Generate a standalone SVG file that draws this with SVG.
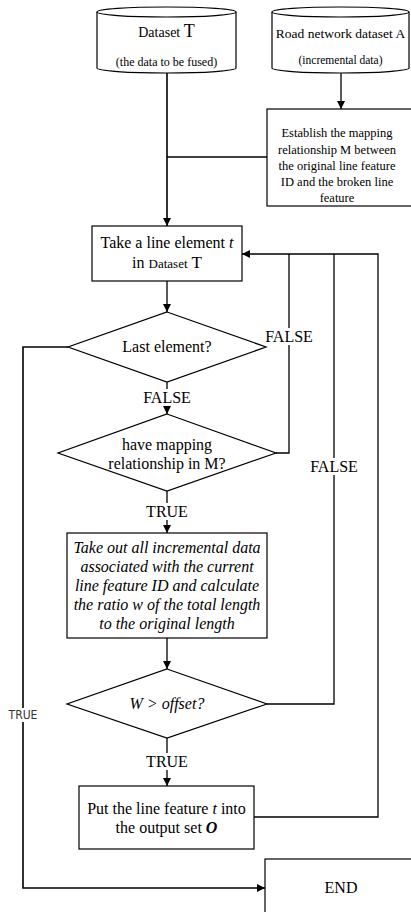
<svg xmlns="http://www.w3.org/2000/svg" width="411" height="912" viewBox="0 0 411 912">
<style>
.s{fill:#fff;stroke:#000;stroke-width:1.2}
.c{fill:none;stroke:#000;stroke-width:1.3}
.t{font-family:"Liberation Serif","Times New Roman",serif;font-size:16px;fill:#000;text-anchor:middle}
.i{font-style:italic}
.e{font-size:12.5px}
.lb{font-family:"Liberation Serif","Times New Roman",serif;font-size:16px;fill:#000;text-anchor:middle}
.bg{fill:#fff;stroke:none}
</style>
<defs>
<marker id="ah" viewBox="0 0 10 10" refX="10" refY="5" markerWidth="8" markerHeight="8" markerUnits="userSpaceOnUse" orient="auto">
<path d="M0,0 L10,5 L0,10 z" fill="#000"/>
</marker>
</defs>
<g id="connectors">
<path class="c" d="M167,73 V226" marker-end="url(#ah)" style="stroke-width:1.6"/>
<path class="c" d="M341,73 V109" marker-end="url(#ah)"/>
<path class="c" d="M267,157 H167"/>
<path class="c" d="M167,281 V312" marker-end="url(#ah)"/>
<path class="c" d="M167,382 V414" marker-end="url(#ah)"/>
<path class="c" d="M167,491 V533" marker-end="url(#ah)"/>
<path class="c" d="M167,638 V669" marker-end="url(#ah)"/>
<path class="c" d="M167,738 V786" marker-end="url(#ah)"/>
<path class="c" d="M276,453 H289 V254"/>
<path class="c" d="M267,704 H334 V254"/>
<path class="c" d="M254,817 H378 V254 H242" marker-end="url(#ah)"/>
<path class="c" d="M68,347 H23 V888 H265" marker-end="url(#ah)" style="stroke-width:1.6"/>
<rect class="bg" x="264" y="328" width="50" height="17"/>
<text class="lb" x="289" y="342">FALSE</text>
<rect class="bg" x="309" y="458" width="50" height="17"/>
<text class="lb" x="334" y="472">FALSE</text>
<rect class="bg" x="141" y="389" width="52" height="17"/>
<text class="lb" x="167" y="403">FALSE</text>
<rect class="bg" x="144" y="503" width="46" height="17"/>
<text class="lb" x="167" y="517">TRUE</text>
<rect class="bg" x="144" y="753" width="46" height="17"/>
<text class="lb" x="167" y="767">TRUE</text>
<rect class="bg" x="8" y="708" width="30" height="14"/>
<text x="23" y="719" style="font-family:'Liberation Sans Narrow','DejaVu Sans Condensed',sans-serif;font-size:12px;text-anchor:middle;fill:#333">TRUE</text>
</g>
<g id="datasetT">
<path class="s" d="M97,12 V68 A69.5,5 0 0 0 236,68 V12"/>
<ellipse class="s" cx="166.5" cy="12" rx="69.5" ry="5"/>
<text class="t" x="166.5" y="37"><tspan style="font-size:14px">Dataset </tspan><tspan style="font-size:18px">T</tspan></text>
<text class="t" style="font-size:12px" x="166.5" y="66">(the data to be fused)</text>
</g>
<g id="datasetA">
<path class="s" d="M272,12 V68 A68.5,5 0 0 0 409,68 V12"/>
<ellipse class="s" cx="340.5" cy="12" rx="68.5" ry="5"/>
<text class="t" x="340.5" y="38" style="font-size:13.5px">Road network dataset A</text>
<text class="t" style="font-size:11.5px" x="340.5" y="64">(incremental data)</text>
</g>
<g id="establish">
<rect class="s" x="267" y="109" width="145" height="97"/>
<text class="t e" x="337" y="137">Establish the mapping</text>
<text class="t e" x="337" y="154">relationship M between</text>
<text class="t e" x="337" y="170">the original line feature</text>
<text class="t e" x="337" y="186">ID and the broken line</text>
<text class="t e" x="337" y="202">feature</text>
</g>
<g id="take">
<rect class="s" x="92" y="226" width="150" height="55"/>
<text class="t" x="167" y="248">Take a line element <tspan class="i">t</tspan></text>
<text class="t" x="167" y="268">in <tspan style="font-size:13px">Dataset</tspan> <tspan style="font-size:17px">T</tspan></text>
</g>
<g id="last">
<polygon class="s" points="167,312 266,347 167,382 68,347"/>
<text class="t" x="167" y="352">Last element?</text>
</g>
<g id="mapping">
<polygon class="s" points="167,414 276,453 167,491 58,453"/>
<text class="t" x="167" y="450">have mapping</text>
<text class="t" x="167" y="469">relationship in M?</text>
</g>
<g id="calc">
<rect class="s" x="67" y="533" width="200" height="105"/>
<text class="t i" x="167" y="553">Take out all incremental data</text>
<text class="t i" x="167" y="572">associated with the current</text>
<text class="t i" x="167" y="591">line feature ID and calculate</text>
<text class="t i" x="167" y="610">the ratio w of the total length</text>
<text class="t i" x="167" y="629">to the original length</text>
</g>
<g id="offset">
<polygon class="s" points="167,669 267,704 167,738 67,704"/>
<text class="t i" x="167" y="709">W &gt; offset?</text>
</g>
<g id="put">
<rect class="s" x="79" y="786" width="175" height="63"/>
<text class="t" x="166.5" y="814">Put the line feature <tspan class="i">t</tspan> into</text>
<text class="t" x="166.5" y="833">the output set <tspan style="font-style:italic;font-weight:bold">O</tspan></text>
</g>
<g id="end">
<rect class="s" x="265" y="859" width="150" height="60"/>
<text class="t" x="341" y="893">END</text>
</g>
</svg>
